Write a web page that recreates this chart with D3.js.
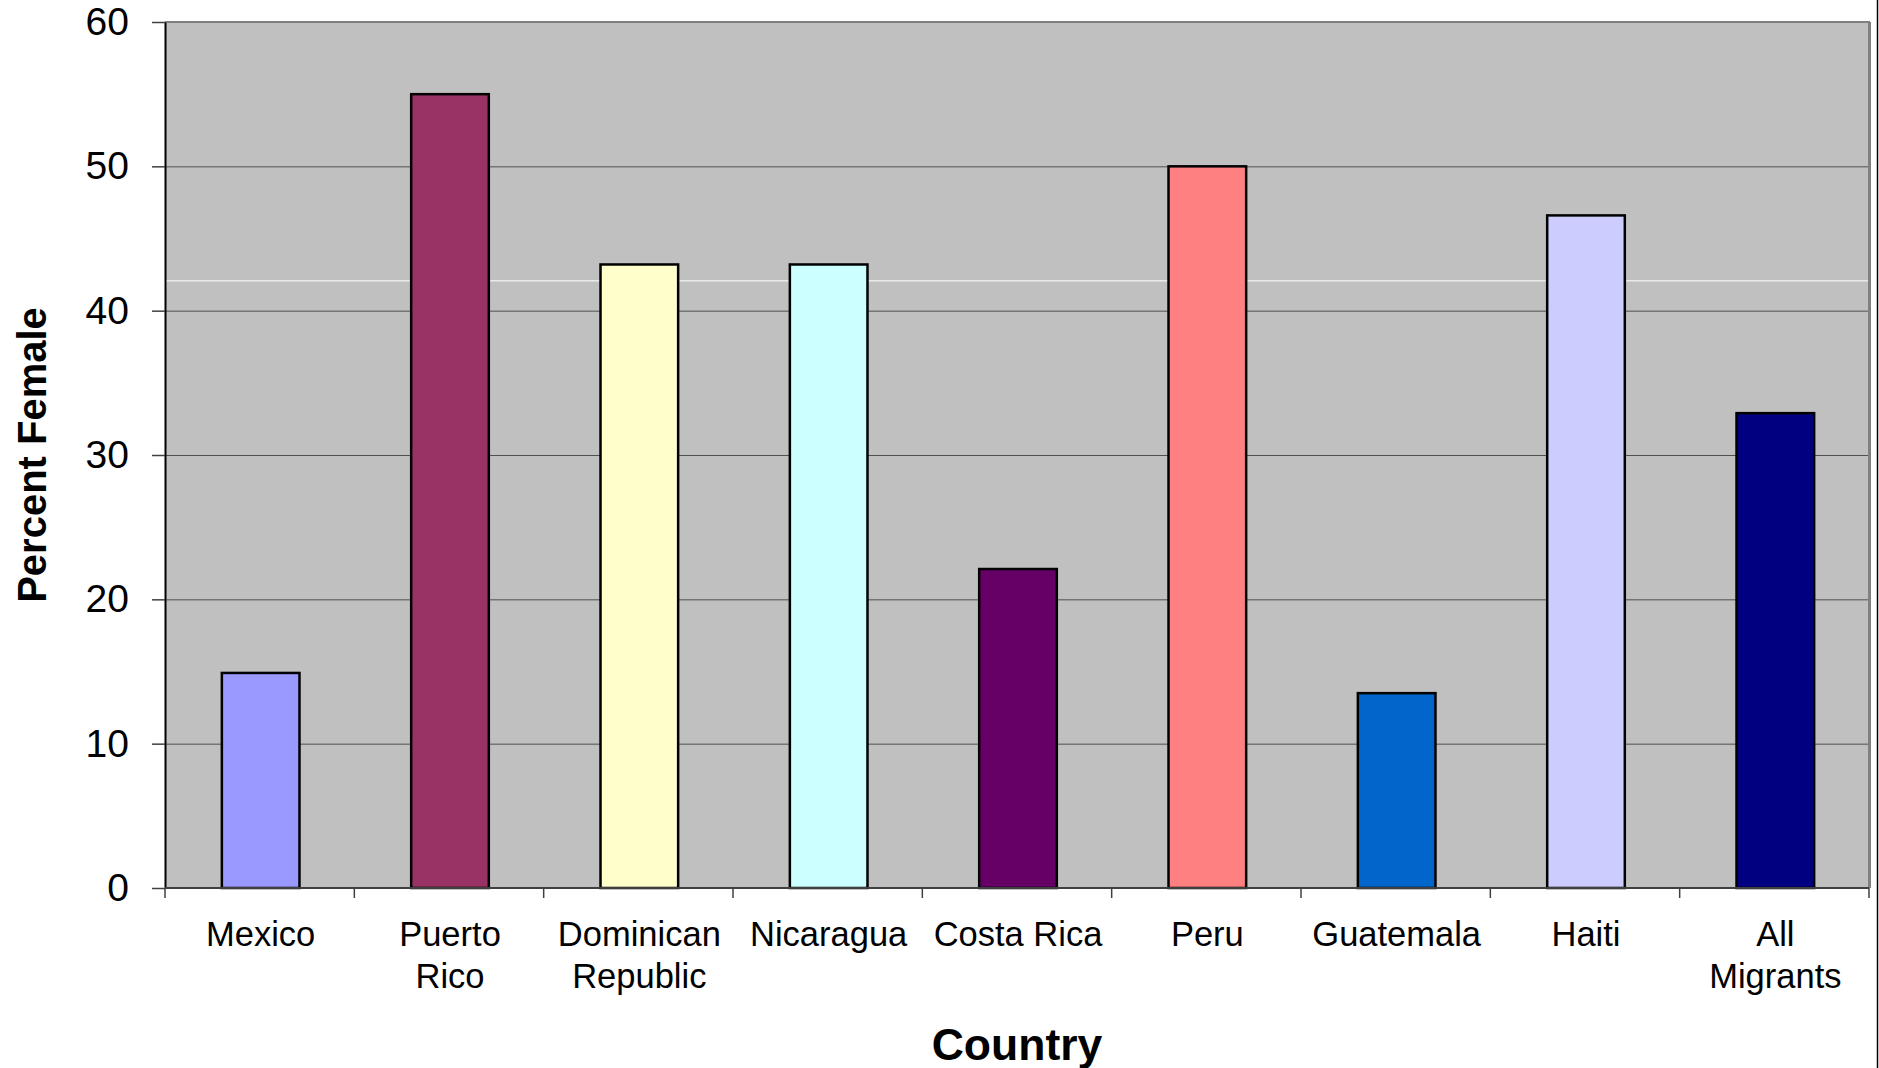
<!DOCTYPE html>
<html>
<head>
<meta charset="utf-8">
<script src="https://cdn.jsdelivr.net/npm/d3@7"></script>
<style>
  body { margin: 0; background: #fff; }
  svg { display: block; font-family: "Liberation Sans", Arial, sans-serif; }
</style>
</head>
<body>
<div id="vis"></div>
<script>
const countries = ["Mexico", "Puerto Rico", "Dominican Republic", "Nicaragua", "Costa Rica", "Peru", "Guatemala", "Haiti", "All Migrants"];
const labelLines = [["Mexico"], ["Puerto", "Rico"], ["Dominican", "Republic"], ["Nicaragua"], ["Costa Rica"], ["Peru"], ["Guatemala"], ["Haiti"], ["All", "Migrants"]];
const percentFemale = [14.9, 55.0, 43.2, 43.2, 22.1, 50.0, 13.5, 46.6, 32.9];
const barColors = ["#9999FF", "#993366", "#FFFFCC", "#CCFFFF", "#660066", "#FF8080", "#0066CC", "#CCCCFF", "#000080"];
const yTicks = [0, 10, 20, 30, 40, 50, 60];
const whiteLineValue = 42.1;

const FRAME_WIDTH = 1879;
const FRAME_HEIGHT = 1068;
const MARGINS = {left: 165, right: 10, top: 22, bottom: 180};

const VIS_WIDTH = FRAME_WIDTH - MARGINS.left - MARGINS.right;
const VIS_HEIGHT = FRAME_HEIGHT - MARGINS.top - MARGINS.bottom;

const FRAME = d3.select("#vis")
                .append("svg")
                    .attr("width", FRAME_WIDTH)
                    .attr("height", FRAME_HEIGHT);

const X_SCALE = d3.scaleBand()
                    .domain(countries)
                    .range([0, VIS_WIDTH])
                    .paddingInner(0.59)
                    .paddingOuter(0.295);

const Y_SCALE = d3.scaleLinear()
                    .domain([0, 60])
                    .range([VIS_HEIGHT, 0]);

const plot = FRAME.append("g")
                .attr("transform", "translate(" + MARGINS.left + "," + MARGINS.top + ")");

// plot area background
plot.append("rect")
    .attr("x", 0).attr("y", 0)
    .attr("width", VIS_WIDTH).attr("height", VIS_HEIGHT)
    .attr("fill", "#C0C0C0");

// gridlines
plot.selectAll(".grid")
    .data(yTicks.filter(d => d > 0 && d < 60))
    .enter()
    .append("line")
        .attr("x1", 0).attr("x2", VIS_WIDTH)
        .attr("y1", d => Y_SCALE(d) + 0.5).attr("y2", d => Y_SCALE(d) + 0.5)
        .attr("stroke", "#505050")
        .attr("stroke-width", 1);

// stray white line in the original
plot.append("line")
    .attr("x1", 0).attr("x2", VIS_WIDTH)
    .attr("y1", Y_SCALE(whiteLineValue) + 0.5).attr("y2", Y_SCALE(whiteLineValue) + 0.5)
    .attr("stroke", "#ffffff")
    .attr("stroke-width", 1);

// plot border top + right
plot.append("line")
    .attr("x1", 0).attr("x2", VIS_WIDTH + 1)
    .attr("y1", Y_SCALE(60)).attr("y2", Y_SCALE(60))
    .attr("stroke", "#808080").attr("stroke-width", 2);
plot.append("line")
    .attr("x1", VIS_WIDTH + 0.5).attr("x2", VIS_WIDTH + 0.5)
    .attr("y1", 0).attr("y2", VIS_HEIGHT)
    .attr("stroke", "#808080").attr("stroke-width", 3);

// bars
plot.selectAll(".bar")
    .data(percentFemale)
    .enter()
    .append("rect")
        .attr("x", (d, i) => X_SCALE(countries[i]) + 1)
        .attr("y", d => Y_SCALE(d))
        .attr("width", X_SCALE.bandwidth())
        .attr("height", d => VIS_HEIGHT - Y_SCALE(d))
        .attr("fill", (d, i) => barColors[i])
        .attr("stroke", "#000")
        .attr("stroke-width", 2.5);

// y axis
const yAxis = plot.append("g")
    .call(d3.axisLeft(Y_SCALE).tickValues(yTicks).tickSize(13).tickPadding(23).tickSizeOuter(0));
yAxis.select(".domain").attr("stroke", "#000").attr("stroke-width", 2);
yAxis.selectAll(".tick line").attr("stroke", "#404040").attr("stroke-width", 1.5);
yAxis.selectAll("text")
    .attr("font-size", "39px")
    .attr("font-family", "'Liberation Sans', Arial, sans-serif")
    .attr("fill", "#000");

// x axis line and ticks at category boundaries
const step = X_SCALE.step();
const boundaries = d3.range(countries.length + 1).map(i => i * step);
plot.append("line")
    .attr("x1", 0).attr("x2", VIS_WIDTH)
    .attr("y1", VIS_HEIGHT).attr("y2", VIS_HEIGHT)
    .attr("stroke", "#404040").attr("stroke-width", 2);
plot.selectAll(".xtick")
    .data(boundaries)
    .enter()
    .append("line")
        .attr("x1", d => d).attr("x2", d => d)
        .attr("y1", VIS_HEIGHT).attr("y2", VIS_HEIGHT + 10)
        .attr("stroke", "#404040").attr("stroke-width", 1.5);

// category labels
const labels = plot.selectAll(".xlabel")
    .data(countries)
    .enter()
    .append("text")
        .attr("text-anchor", "middle")
        .attr("font-size", "34.5px")
        .attr("fill", "#000")
        .attr("transform", d => "translate(" + (X_SCALE(d) + X_SCALE.bandwidth() / 2 + 1) + "," + (VIS_HEIGHT + 58) + ")");
labels.each(function(d, i) {
    d3.select(this).selectAll("tspan")
        .data(labelLines[i])
        .enter()
        .append("tspan")
            .attr("x", 0)
            .attr("y", (t, j) => j * 42)
            .text(t => t);
});

// axis titles
FRAME.append("text")
    .attr("x", MARGINS.left + VIS_WIDTH / 2)
    .attr("y", 1060)
    .attr("text-anchor", "middle")
    .attr("font-size", "44.5px")
    .attr("font-weight", "bold")
    .text("Country");

FRAME.append("text")
    .attr("transform", "translate(46," + (MARGINS.top + VIS_HEIGHT / 2) + ") rotate(-90)")
    .attr("text-anchor", "middle")
    .attr("font-size", "40px")
    .attr("font-weight", "bold")
    .text("Percent Female");

// outer chart border on the right edge
FRAME.append("line")
    .attr("x1", 1877.5).attr("x2", 1877.5)
    .attr("y1", 0).attr("y2", FRAME_HEIGHT)
    .attr("stroke", "#000").attr("stroke-width", 1.5);
</script>
</body>
</html>
